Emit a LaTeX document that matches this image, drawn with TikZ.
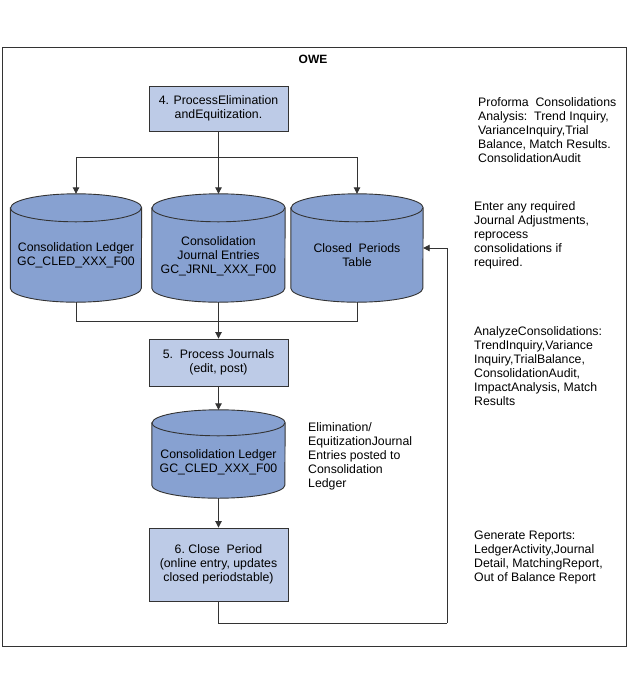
\documentclass[tikz,border=0pt]{standalone}
\usepackage{fontspec}
\setmainfont{Liberation Sans}
\usetikzlibrary{arrows.meta}
\definecolor{boxfill}{HTML}{BDCBE7}
\definecolor{cylfill}{HTML}{87A1D1}
\definecolor{edgec}{HTML}{333333}
\newcommand\drawcyl[3]{%
  \draw[cylline] ([yshift=-#3]#1.north west) -- ([yshift=#3]#1.south west)
    arc[start angle=180,end angle=360,x radius=#2,y radius=#3]
    -- ([yshift=-#3]#1.north east)
    arc[start angle=0,end angle=180,x radius=#2,y radius=#3] -- cycle;
  \draw[cylline,fill=none] ([yshift=-#3]#1.north west)
    arc[start angle=180,end angle=360,x radius=#2,y radius=#3];
}
\begin{document}
\begin{tikzpicture}[x=1pt,y=-1pt,
  every node/.style={font=\fontsize{12.3}{14}\selectfont},
  frame/.style={draw=edgec,line width=0.8pt},
  procbox/.style={draw=edgec,fill=boxfill,line width=0.9pt,minimum width=139pt,align=center,inner sep=0pt},
  cylnode/.style={inner sep=0pt,draw=none},
  cylline/.style={draw=edgec,fill=cylfill,line width=0.9pt},
  celltext/.style={align=center,inner sep=0pt},
  sidetext/.style={align=left,inner sep=0pt,anchor=west},
  link/.style={draw=edgec,line width=0.9pt},
  arr/.style={link,-{Triangle[length=6.5pt,width=6.5pt]}}]
\useasboundingbox (0,0) rectangle (634,673);
\draw[frame] (2.5,47) rectangle (626,646);
\node[font=\fontsize{12}{14}\selectfont\bfseries] (owe) at (313,59) {OWE};

% process boxes
\node[procbox,minimum height=45pt] (b4) at (218.5,108.5) {4. ProcessElimination\\andEquitization.};
\node[procbox,minimum height=47pt] (b5) at (218.5,362.5) {5.\ \ Process Journals\\(edit, post)};
\node[procbox,minimum height=73pt] (b6) at (218.5,564.5) {6.\ Close\ \ Period\\(online entry, updates\\closed periodstable)};

% cylinders
\node[cylnode,minimum width=131pt,minimum height=108pt] (c1) at (76,248) {};
\node[cylnode,minimum width=133pt,minimum height=108pt] (c2) at (218.5,248) {};
\node[cylnode,minimum width=132pt,minimum height=108pt] (c3) at (357,248) {};
\node[cylnode,minimum width=133pt,minimum height=88pt] (c4) at (218.5,454) {};
\drawcyl{c1}{65.5pt}{14pt}
\drawcyl{c2}{66.5pt}{14pt}
\drawcyl{c3}{66pt}{14pt}
\drawcyl{c4}{66.5pt}{13pt}
\node[celltext] (t1) at (76,255) {Consolidation Ledger\\GC\_CLED\_XXX\_F00};
\node[celltext] (t2) at (218.5,256) {Consolidation\\Journal Entries\\GC\_JRNL\_XXX\_F00};
\node[celltext] (t3) at (357,255) {Closed\ \ Periods\\Table};
\node[celltext] (t4) at (218.5,462) {Consolidation Ledger\\GC\_CLED\_XXX\_F00};

% side notes
\node[sidetext] (n1) at (478,130) {Proforma\ \ Consolidations\\Analysis:\ \ Trend Inquiry,\\VarianceInquiry,Trial\\Balance, Match Results.\\ConsolidationAudit};
\node[sidetext] (n2) at (474,235) {Enter any required\\Journal Adjustments,\\reprocess\\consolidations if\\required.};
\node[sidetext] (n3) at (474,366) {AnalyzeConsolidations:\\TrendInquiry,Variance\\Inquiry,TrialBalance,\\ConsolidationAudit,\\ImpactAnalysis, Match\\Results};
\node[sidetext] (n4) at (308,456) {Elimination/\\EquitizationJournal\\Entries posted to\\Consolidation\\Ledger};
\node[sidetext] (n5) at (474,557) {Generate Reports:\\LedgerActivity,Journal\\Detail, MatchingReport,\\Out of Balance Report};

% connectors
\coordinate (j1) at (218.5,157);
\coordinate (j2) at (218.5,321);
\coordinate (r1) at (447,623);
\draw[link] (b4.south) -- (j1);
\draw[arr] (j1) -| (c1.north);
\draw[arr] (j1) -| (c3.north);
\draw[arr] (j1) -- (c2.north);
\draw[link] (c1.south) |- (j2);
\draw[link] (c3.south) |- (j2);
\draw[arr] (c2.south) -- (b5.north);
\draw[arr] (b5.south) -- (c4.north);
\draw[arr] (c4.south) -- (b6.north);
\draw[link] (b6.south) |- (r1);
\draw[arr] (r1) |- (c3.east);
\end{tikzpicture}
\end{document}
